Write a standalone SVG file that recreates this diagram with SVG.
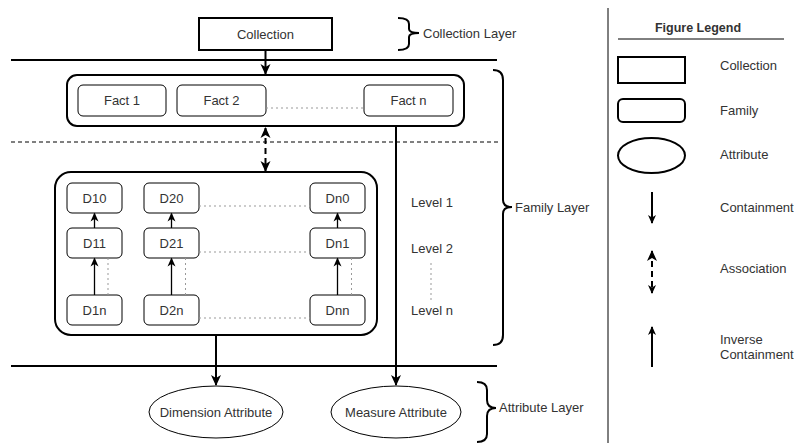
<svg xmlns="http://www.w3.org/2000/svg" width="794" height="443" viewBox="0 0 794 443">
<style>
text{font-family:"Liberation Sans",Arial,sans-serif;font-size:13px;fill:#333;}
.c{text-anchor:middle;dominant-baseline:central;}
.l{dominant-baseline:central;}
.box{fill:#fff;stroke:#000;}
.sep{stroke:#000;stroke-width:2;fill:none;}
.dot{stroke:#999;stroke-width:1;stroke-dasharray:2 3;fill:none;}
.br{stroke:#000;stroke-width:2;fill:none;}
.arr{stroke:#000;stroke-width:2;fill:none;}
.arr1{stroke:#000;stroke-width:1.3;fill:none;}
</style>
<defs>
<marker id="ah" markerUnits="userSpaceOnUse" markerWidth="12" markerHeight="12" refX="10" refY="6" orient="auto">
<path d="M0,1 L11,6 L0,11 L3,6 z" fill="#000"/>
</marker>
<marker id="ahs" markerUnits="userSpaceOnUse" markerWidth="10" markerHeight="10" refX="8" refY="5" orient="auto">
<path d="M0,1 L9,5 L0,9 L2.5,5 z" fill="#000"/>
</marker>
<marker id="ahstart" markerUnits="userSpaceOnUse" markerWidth="12" markerHeight="12" refX="1" refY="6" orient="auto">
<path d="M11,1 L0,6 L11,11 L8,6 z" fill="#000"/>
</marker>
</defs>
<rect width="794" height="443" fill="#fff"/>

<!-- layer separators -->
<g id="separators">
<line class="sep" x1="11" y1="60" x2="497" y2="60"/>
<line x1="11" y1="142" x2="498" y2="142" stroke="#000" stroke-width="1" stroke-dasharray="4 3"/>
<line class="sep" x1="11" y1="366" x2="497" y2="366"/>
</g>

<g id="collection">
<rect class="box" x="199" y="18" width="133" height="32" stroke-width="2"/>
<text class="c" x="265.5" y="34">Collection</text>
</g>

<g id="fact-family">
<rect class="box" x="67" y="75" width="397" height="51" rx="10" stroke-width="2"/>
</g>
<g id="fact1"><rect class="box" x="78" y="85" width="88" height="31" rx="5"/><text class="c" x="122" y="100.5">Fact 1</text></g>
<g id="fact2"><rect class="box" x="177" y="85" width="89" height="31" rx="5"/><text class="c" x="221.5" y="100.5">Fact 2</text></g>
<g id="factn"><rect class="box" x="364" y="85" width="89" height="31" rx="5"/><text class="c" x="408.5" y="100.5">Fact n</text></g>

<g id="dim-family">
<rect class="box" x="55" y="172" width="322" height="163" rx="16" stroke-width="2"/>
</g>
<g id="d10"><rect class="box" x="67" y="183" width="55" height="30" rx="5"/><text class="c" x="94.5" y="198">D10</text></g>
<g id="d11"><rect class="box" x="67" y="228" width="55" height="30" rx="5"/><text class="c" x="94.5" y="243">D11</text></g>
<g id="d1n"><rect class="box" x="67" y="295" width="55" height="30" rx="5"/><text class="c" x="94.5" y="310">D1n</text></g>
<g id="d20"><rect class="box" x="144" y="183" width="55" height="30" rx="5"/><text class="c" x="171.5" y="198">D20</text></g>
<g id="d21"><rect class="box" x="144" y="228" width="55" height="30" rx="5"/><text class="c" x="171.5" y="243">D21</text></g>
<g id="d2n"><rect class="box" x="144" y="295" width="55" height="30" rx="5"/><text class="c" x="171.5" y="310">D2n</text></g>
<g id="dn0"><rect class="box" x="310" y="183" width="55" height="30" rx="5"/><text class="c" x="337.5" y="198">Dn0</text></g>
<g id="dn1"><rect class="box" x="310" y="228" width="55" height="30" rx="5"/><text class="c" x="337.5" y="243">Dn1</text></g>
<g id="dnn"><rect class="box" x="310" y="295" width="55" height="30" rx="5"/><text class="c" x="337.5" y="310">Dnn</text></g>

<g id="dim-attr"><ellipse class="box" cx="216" cy="412" rx="67" ry="26"/><text class="c" x="216" y="412">Dimension Attribute</text></g>
<g id="meas-attr"><ellipse class="box" cx="396" cy="412" rx="65" ry="26"/><text class="c" x="396" y="412">Measure Attribute</text></g>

<g id="levels">
<text class="l" x="411" y="202">Level 1</text>
<text class="l" x="411" y="248">Level 2</text>
<text class="l" x="411" y="310">Level n</text>
<line class="dot" x1="431" y1="263" x2="431" y2="302"/>
</g>

<g id="braces">
<path class="br" d="M398,18 Q409,18 409,24 L409,29 Q409,33 419,33 Q409,33 409,37 L409,44 Q409,50 398,50"/>
<text class="l" x="423" y="33">Collection Layer</text>
<path class="br" d="M493,70 Q503,70 503,80 L503,200 Q503,207 512,207 Q503,207 503,214 L503,335 Q503,345 493,345"/>
<text class="l" x="515" y="207">Family Layer</text>
<path class="br" d="M477,382 Q487,382 487,390 L487,400 Q487,408 496,408 Q487,408 487,416 L487,434 Q487,442 477,442"/>
<text class="l" x="499" y="407">Attribute Layer</text>
</g>

<g id="connectors">
<line class="arr" x1="265.5" y1="50" x2="265.5" y2="74" marker-end="url(#ah)"/>
<line class="arr" x1="265.5" y1="128" x2="265.5" y2="171" stroke-dasharray="6 4" marker-start="url(#ahstart)" marker-end="url(#ah)"/>
<line class="arr" x1="396" y1="126" x2="396" y2="385" marker-end="url(#ah)"/>
<line class="arr" x1="216" y1="335" x2="216" y2="385" marker-end="url(#ah)"/>
<line class="dot" x1="266" y1="108" x2="364" y2="108"/>
<line class="dot" x1="199" y1="206" x2="310" y2="206"/>
<line class="dot" x1="199" y1="252" x2="310" y2="252"/>
<line class="dot" x1="199" y1="318" x2="310" y2="318"/>
<line class="dot" x1="108" y1="258" x2="108" y2="295"/>
<line class="dot" x1="185.5" y1="258" x2="185.5" y2="295"/>
<line class="dot" x1="351.5" y1="258" x2="351.5" y2="295"/>
<line class="arr1" x1="94.5" y1="228" x2="94.5" y2="213.5" marker-end="url(#ahs)"/>
<line class="arr1" x1="94.5" y1="295" x2="94.5" y2="258.5" marker-end="url(#ahs)"/>
<line class="arr1" x1="171.5" y1="228" x2="171.5" y2="213.5" marker-end="url(#ahs)"/>
<line class="arr1" x1="171.5" y1="295" x2="171.5" y2="258.5" marker-end="url(#ahs)"/>
<line class="arr1" x1="337.5" y1="228" x2="337.5" y2="213.5" marker-end="url(#ahs)"/>
<line class="arr1" x1="337.5" y1="295" x2="337.5" y2="258.5" marker-end="url(#ahs)"/>
</g>

<g id="legend">
<line x1="608" y1="8" x2="608" y2="443" stroke="#000" stroke-width="1"/>
<text x="698" y="28" text-anchor="middle" dominant-baseline="central" style="font-weight:bold;font-size:12.5px">Figure Legend</text>
<line x1="618" y1="39" x2="784" y2="39" stroke="#000" stroke-width="1"/>
<rect class="box" x="618" y="57" width="67" height="26" stroke-width="2"/>
<text class="l" x="720" y="65">Collection</text>
<rect class="box" x="618" y="99" width="67" height="23" rx="5" stroke-width="2"/>
<text class="l" x="720" y="110">Family</text>
<ellipse class="box" cx="651.5" cy="155.5" rx="33.5" ry="17.5" stroke-width="2"/>
<text class="l" x="720" y="154">Attribute</text>
<line class="arr" x1="652" y1="192" x2="652" y2="223" marker-end="url(#ahs)"/>
<text class="l" x="720" y="207">Containment</text>
<line class="arr" x1="652" y1="251" x2="652" y2="293" stroke-dasharray="6 4" marker-start="url(#ahstart)" marker-end="url(#ahs)"/>
<text class="l" x="720" y="268">Association</text>
<line class="arr" x1="652" y1="367" x2="652" y2="327" marker-end="url(#ahs)"/>
<text class="l" x="720" y="339">Inverse</text>
<text class="l" x="720" y="354">Containment</text>
</g>
</svg>
